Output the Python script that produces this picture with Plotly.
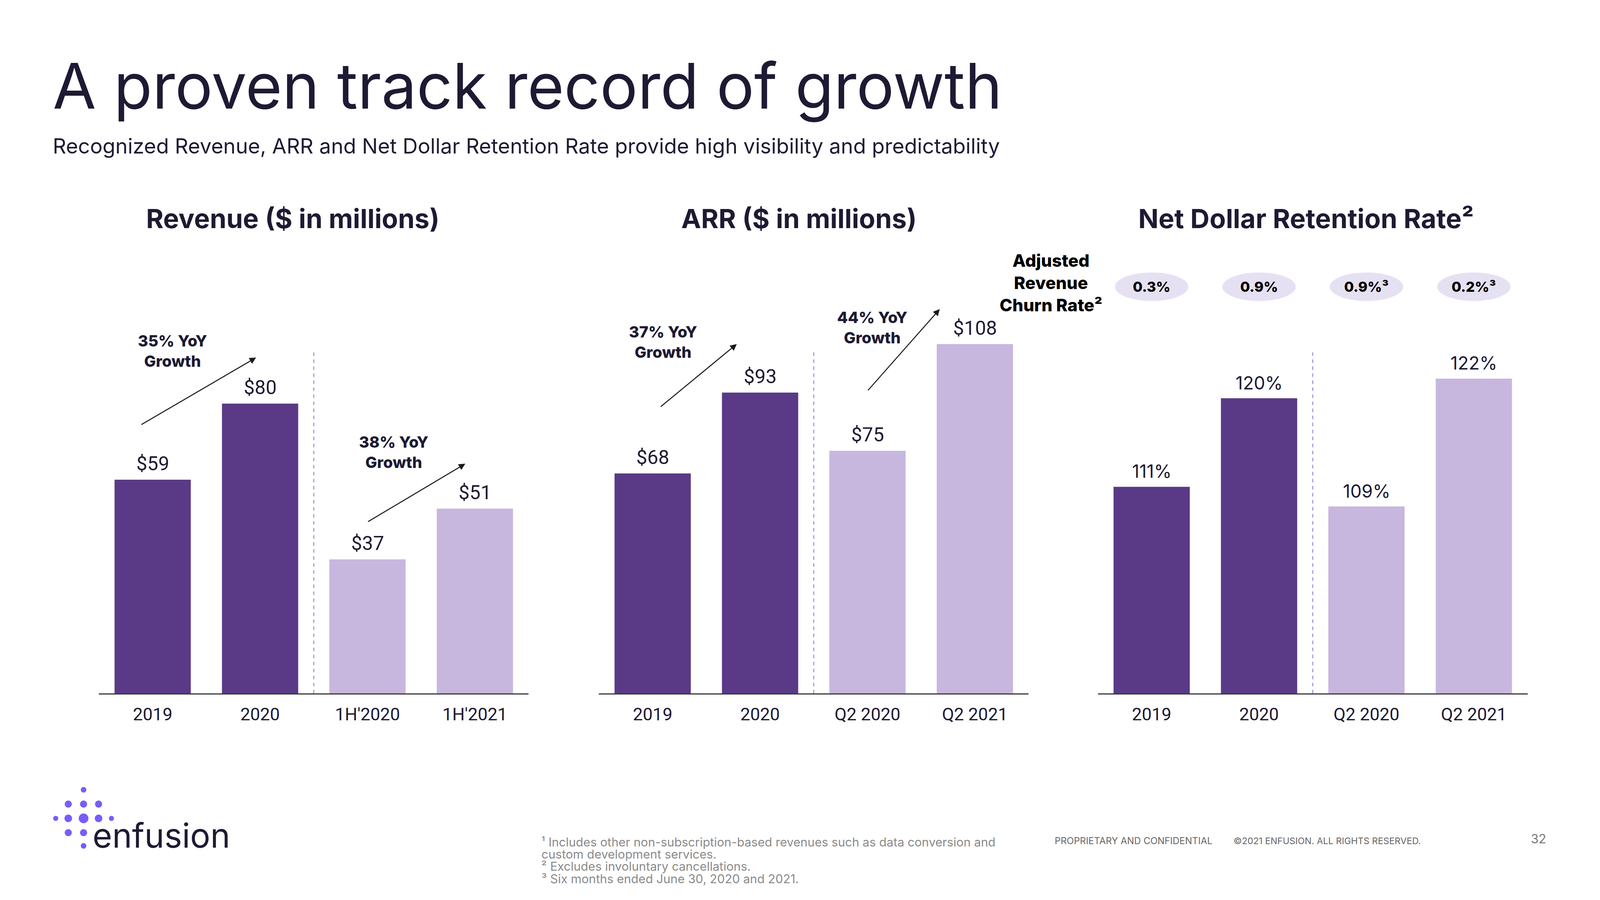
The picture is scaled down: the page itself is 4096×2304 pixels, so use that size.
import plotly.graph_objects as go

# ---------------- data ----------------
rev_cats = ["2019", "2020", "1H'2020", "1H'2021"]
rev_vals = [59, 80, 37, 51]
arr_cats = ["2019", "2020", "Q2 2020", "Q2 2021"]
arr_vals = [68, 93, 75, 108]
ndr_cats = ["2019", "2020", "Q2 2020", "Q2 2021"]
ndr_vals = [111, 120, 109, 122]
churn_vals = ["0.3%", "0.9%", "0.9%³", "0.2%³"]
growth_texts = ["35% YoY<br>Growth", "38% YoY<br>Growth", "37% YoY<br>Growth", "44% YoY<br>Growth"]
panel_titles = ["Revenue ($ in millions)", "ARR ($ in millions)", "Net Dollar Retention Rate²"]
footnotes = [
    "¹ Includes other non-subscription-based revenues such as data conversion and",
    "custom development services.",
    "² Excludes involuntary cancellations.",
    "³ Six months ended June 30, 2020 and 2021.",
]

# ---------------- style ----------------
WIN_W, WIN_H = 4096, 2304
OFF = 8  # default page body margin
W, H = WIN_W - 2 * OFF, WIN_H - 2 * OFF
S = WIN_W / 1568.0  # preview px -> window px
DARK = "#5A3A86"
LIGHT = "#C7B7DF"
INK = "#1D1A33"
colors = [DARK, DARK, LIGHT, LIGHT]
HEAD = "Inter"
NUM = "Roboto"


def px(x):
    return (x * S - OFF) / W


def py(y):
    return 1 - (y * S - OFF) / H


ydom = [py(679.5), py(290)]

fig = go.Figure()
fig.add_trace(go.Bar(x=rev_cats, y=rev_vals, marker=dict(color=colors, line=dict(width=0)),
                     xaxis="x", yaxis="y", hoverinfo="skip"))
fig.add_trace(go.Bar(x=arr_cats, y=arr_vals, marker=dict(color=colors, line=dict(width=0)),
                     xaxis="x2", yaxis="y2", hoverinfo="skip"))
fig.add_trace(go.Bar(x=ndr_cats, y=ndr_vals, marker=dict(color=colors, line=dict(width=0)),
                     xaxis="x3", yaxis="y3", hoverinfo="skip"))

xcommon = dict(type="category", range=[-0.5, 3.5], showline=True, linecolor="#3a3a3a",
               linewidth=2.5, ticks="", showgrid=False, zeroline=False, fixedrange=True,
               tickfont=dict(family=NUM, size=45, color=INK), ticklabelstandoff=12)
ycommon = dict(visible=False, showgrid=False, zeroline=False, domain=ydom, fixedrange=True)

fig.update_layout(
    width=W, height=H, margin=dict(l=0, r=0, t=0, b=0),
    paper_bgcolor="white", plot_bgcolor="rgba(0,0,0,0)",
    showlegend=False, bargap=0.29,
    xaxis=dict(domain=[px(97), px(518)], anchor="y", **xcommon),
    xaxis2=dict(domain=[px(587), px(1008)], anchor="y2", **xcommon),
    xaxis3=dict(domain=[px(1076), px(1497)], anchor="y3", **xcommon),
    yaxis=dict(range=[0, 389.5 / 3.55], anchor="x", **ycommon),
    yaxis2=dict(range=[0, 389.5 / 3.17], anchor="x2", **ycommon),
    yaxis3=dict(range=[90, 90 + 389.5 / 9.64], anchor="x3", **ycommon),
)

ann = []
shapes = []


def note(x, y, text, size, color=INK, family=HEAD, weight=None, xanchor="center", yanchor="middle", **kw):
    f = dict(family=family, size=size, color=color)
    if weight:
        f["weight"] = weight
    d = dict(x=px(x), y=py(y), xref="paper", yref="paper", text=text, showarrow=False,
             xanchor=xanchor, yanchor=yanchor, font=f)
    d.update(kw)
    ann.append(d)


# data labels (category index positions on each axis)
for cats, vals, xa, ya, fmt, fam, size in [
    (rev_cats, rev_vals, "x", "y", "${}", NUM, 50),
    (arr_cats, arr_vals, "x2", "y2", "${}", NUM, 50),
    (ndr_cats, ndr_vals, "x3", "y3", "{}%", HEAD, 46),
]:
    for i, v in enumerate(vals):
        ann.append(dict(x=i, y=v, xref=xa, yref=ya, text=fmt.format(v), showarrow=False,
                        xanchor="center", yanchor="bottom", yshift=10,
                        font=dict(family=fam, size=size, color=INK)))

# dashed separators
for xa in ["x", "x2", "x3"]:
    shapes.append(dict(type="line", xref=xa, yref="paper", x0=1.5, x1=1.5,
                       y0=ydom[0], y1=py(345), line=dict(color="#7E6FE6", width=2, dash="dash")))

# growth texts
for t, (x, y) in zip(growth_texts, [(169, 344), (386, 443), (650, 335), (855, 321)]):
    note(x, y, t, 40, weight=800, align="center")

# growth arrows (tail -> head), in axis coordinates
for xa, ya, tail, head in [
    ("x", "y", (-0.11, 74.1), (0.963, 92.7)),
    ("x", "y", (2.0, 47.3), (2.911, 63.4)),
    ("x2", "y2", (0.07, 88.5), (0.783, 108.0)),
    ("x2", "y2", (2.0, 93.5), (2.673, 118.8)),
]:
    ann.append(dict(x=head[0], y=head[1], ax=tail[0], ay=tail[1], xref=xa, yref=ya,
                    axref=xa, ayref=ya, text="", showarrow=True, arrowhead=2,
                    arrowsize=1.3, arrowwidth=2.6, arrowcolor="#1a1a1a", standoff=0))

# panel titles
for t, x in zip(panel_titles, [287, 783, 1280]):
    note(x, 214, t, 68, weight=700)

# churn label + bubbles
note(1030, 277, "Adjusted<br>Revenue<br>Churn Rate²", 44, color="#000", weight=800, align="center")
for i, t in enumerate(churn_vals):
    shapes.append(dict(type="circle", xref="x3", yref="paper", x0=i - 0.342, x1=i + 0.342,
                       y0=py(295), y1=py(267), fillcolor="#E6E1F2", line=dict(width=0), layer="below"))
    ann.append(dict(x=i, y=py(281), xref="x3", yref="paper", text=t, showarrow=False,
                    xanchor="center", yanchor="middle",
                    font=dict(family=HEAD, size=36, color="#000", weight=800)))

# title & subtitle
note(51, 84, "A proven track record of growth", 161, xanchor="left")
note(51, 143, "Recognized Revenue, ARR and Net Dollar Retention Rate provide high visibility and predictability",
     53.5, xanchor="left")

# footnotes
for i, t in enumerate(footnotes):
    note(530, 825 + 12 * i, t, 31, color="#8a8a8a", xanchor="left")

note(1033, 824, "PROPRIETARY AND CONFIDENTIAL", 24, color="#666", xanchor="left")
note(1208, 824, "©2021 ENFUSION. ALL RIGHTS RESERVED.", 23.3, color="#666", xanchor="left")
note(1516, 822, "32", 32, color="#777", xanchor="right")

# logo
dots = [(81.9, 774, 5.5), (66.9, 788, 7), (81.9, 788, 7), (96.6, 788, 7),
        (54.6, 802, 5), (66.9, 802, 7.5), (81.9, 802, 9.5), (96.6, 802, 7.5), (109.2, 802, 5),
        (66.9, 816, 7), (81.9, 816, 7), (81.9, 829, 5.5)]
for x, y, d in dots:
    r = d * S / 2
    shapes.append(dict(type="circle", xref="paper", yref="paper", xsizemode="pixel", ysizemode="pixel",
                       xanchor=px(x), yanchor=py(y), x0=-r, x1=r, y0=-r, y1=r,
                       fillcolor="#7A5CF8", line=dict(width=0)))
note(90, 819, "enfusion", 86, xanchor="left")

fig.update_layout(annotations=ann, shapes=shapes)
fig.write_html("out.html")
